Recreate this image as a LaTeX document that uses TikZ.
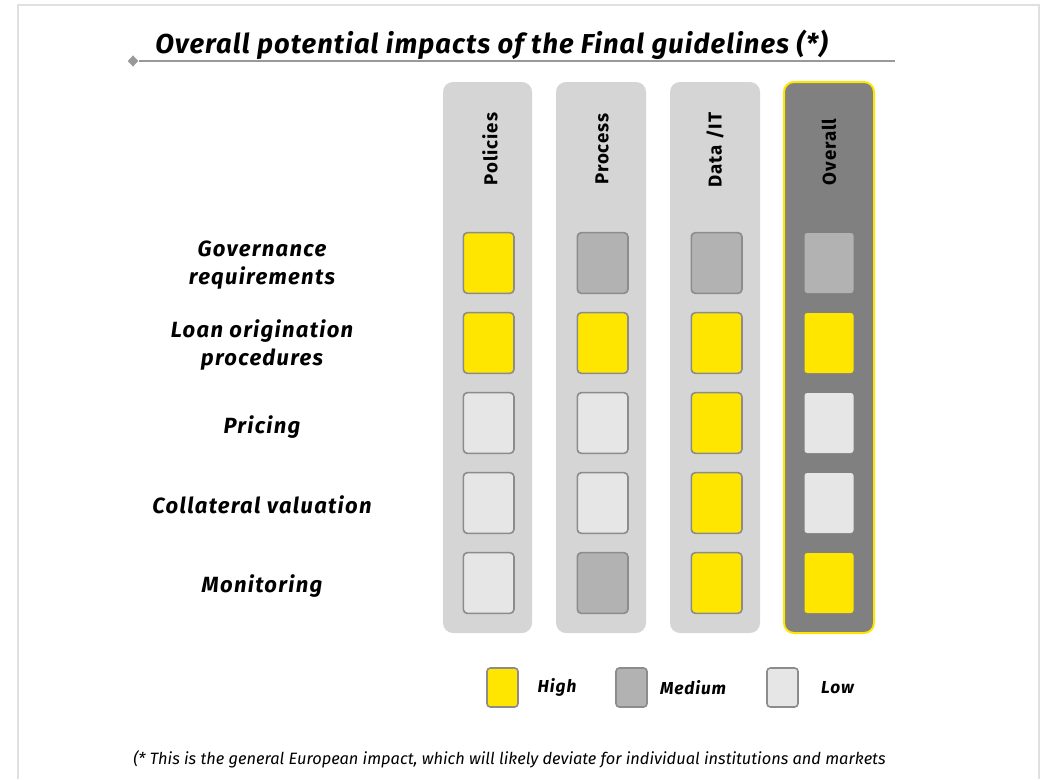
\documentclass[tikz,border=0pt]{standalone}
\usepackage{fontspec}
\setmainfont{Fira Sans}
\newfontfamily\eyfont[LetterSpace=5]{Fira Sans}
\newfontfamily\eywide[LetterSpace=6]{Fira Sans}
\newfontfamily\eytitle[LetterSpace=4]{Fira Sans}
\usepackage{tikz}
\usetikzlibrary{shapes,matrix,positioning}

\definecolor{eyyellow}{HTML}{FFE600}
\definecolor{medgray}{HTML}{B2B2B2}
\definecolor{lowgray}{HTML}{E6E6E6}
\definecolor{colgray}{HTML}{D5D5D5}
\definecolor{darkcol}{HTML}{808080}
\definecolor{cellline}{HTML}{8C8C8C}
\definecolor{framegray}{HTML}{E0E0E0}
\definecolor{linegray}{HTML}{999999}

\tikzset{
  cell/.style={draw=cellline, line width=1.2pt, rounded corners=3pt, minimum width=38pt, minimum height=45.5pt, inner sep=0pt},
  hi/.style={cell, fill=eyyellow},
  med/.style={cell, fill=medgray},
  lo/.style={cell, fill=lowgray},
  ocell/.style={rounded corners=2pt, minimum width=36.75pt, minimum height=45pt, inner sep=0pt},
  ohi/.style={ocell, fill=eyyellow},
  omed/.style={ocell, fill=medgray},
  olo/.style={ocell, fill=lowgray},
  colbox/.style={fill=colgray, rounded corners=7.5pt},
  colhead/.style={rotate=90, font=\eyfont\bfseries\fontsize{14}{16}\selectfont},
  rowlabel/.style={align=center, font=\eywide\bfseries\itshape\fontsize{16.5}{21.5}\selectfont},
  key/.style={cell, minimum width=23.25pt, minimum height=29.25pt, rounded corners=2.5pt},
  keytext/.style={inner sep=0pt, anchor=west, font=\eyfont\bfseries\itshape\fontsize{13}{15}\selectfont}
}

\begin{document}
\begin{tikzpicture}[x=0.75pt,y=-0.75pt]
\useasboundingbox (0,0) rectangle (1042,779);
\draw[framegray, line width=1.5pt] (18,779) -- (18,5) -- (1039,5) -- (1039,779);

% title
\node[anchor=base west, inner sep=0pt, font=\eytitle\bfseries\itshape\fontsize{20.5}{24}\selectfont] (title) at (155,53) {Overall potential impacts of the Final guidelines (*)};
\node[diamond, fill=linegray, inner sep=0pt, minimum width=8pt, minimum height=8.5pt] (tick) at (133,61) {};
\draw[linegray, line width=1.2pt] (tick) -- (895,61);

% columns
\fill[colbox] (443,82) rectangle (532,633);
\fill[colbox] (556,82) rectangle (646,633);
\fill[colbox] (670,82) rectangle (760,633);
\filldraw[colbox, fill=darkcol, draw=eyyellow, line width=1.5pt] (784,82) rectangle (874,633);

\node[colhead] (pol) at (490,149) {Policies};
\node[colhead] (pro) at (602,149) {Process};
\node[colhead] (dat) at (715,150) {Data /IT};
\node[colhead] (all) at (829,152) {Overall};

\matrix[name=impact, inner sep=0pt, column sep=46.3pt, row sep=13.3pt] at (658,423) {
  \node[hi] (govPol) {}; & \node[med] (govPro) {}; & \node[med] (govDat) {}; & \node[omed] (govAll) {}; \\
  \node[hi] (loaPol) {}; & \node[hi] (loaPro) {}; & \node[hi] (loaDat) {}; & \node[ohi] (loaAll) {}; \\
  \node[lo] (priPol) {}; & \node[lo] (priPro) {}; & \node[hi] (priDat) {}; & \node[olo] (priAll) {}; \\
  \node[lo] (colPol) {}; & \node[lo] (colPro) {}; & \node[hi] (colDat) {}; & \node[olo] (colAll) {}; \\
  \node[lo] (monPol) {}; & \node[med] (monPro) {}; & \node[hi] (monDat) {}; & \node[ohi] (monAll) {}; \\
};

% row labels
\node[rowlabel] (gov) at (262,265) {Governance\\requirements};
\node[rowlabel] (loa) at (262,345) {Loan origination\\procedures};
\node[rowlabel] (pri) at (262,427) {Pricing};
\node[rowlabel] (col) at (262,505) {Collateral valuation};
\node[rowlabel] (mon) at (262,586) {Monitoring};

% legend
\node[key, fill=eyyellow] (keyHi) at (502.5,687.5) {};
\node[key, fill=medgray] (keyMed) at (631.5,687.5) {};
\node[key, fill=lowgray] (keyLo) at (782.5,687.5) {};
\node[keytext, right=14pt of keyHi] (txtHi) {High};
\node[keytext, right=9pt of keyMed] (txtMed) {Medium};
\node[keytext, right=16.5pt of keyLo] (txtLo) {Low};

% footnote
\node[anchor=west, inner sep=0pt, font=\itshape\fontsize{12.3}{14}\selectfont] (note) at (133,759) {(* This is the general European impact, which will likely deviate for individual institutions and markets};
\end{tikzpicture}
\end{document}
